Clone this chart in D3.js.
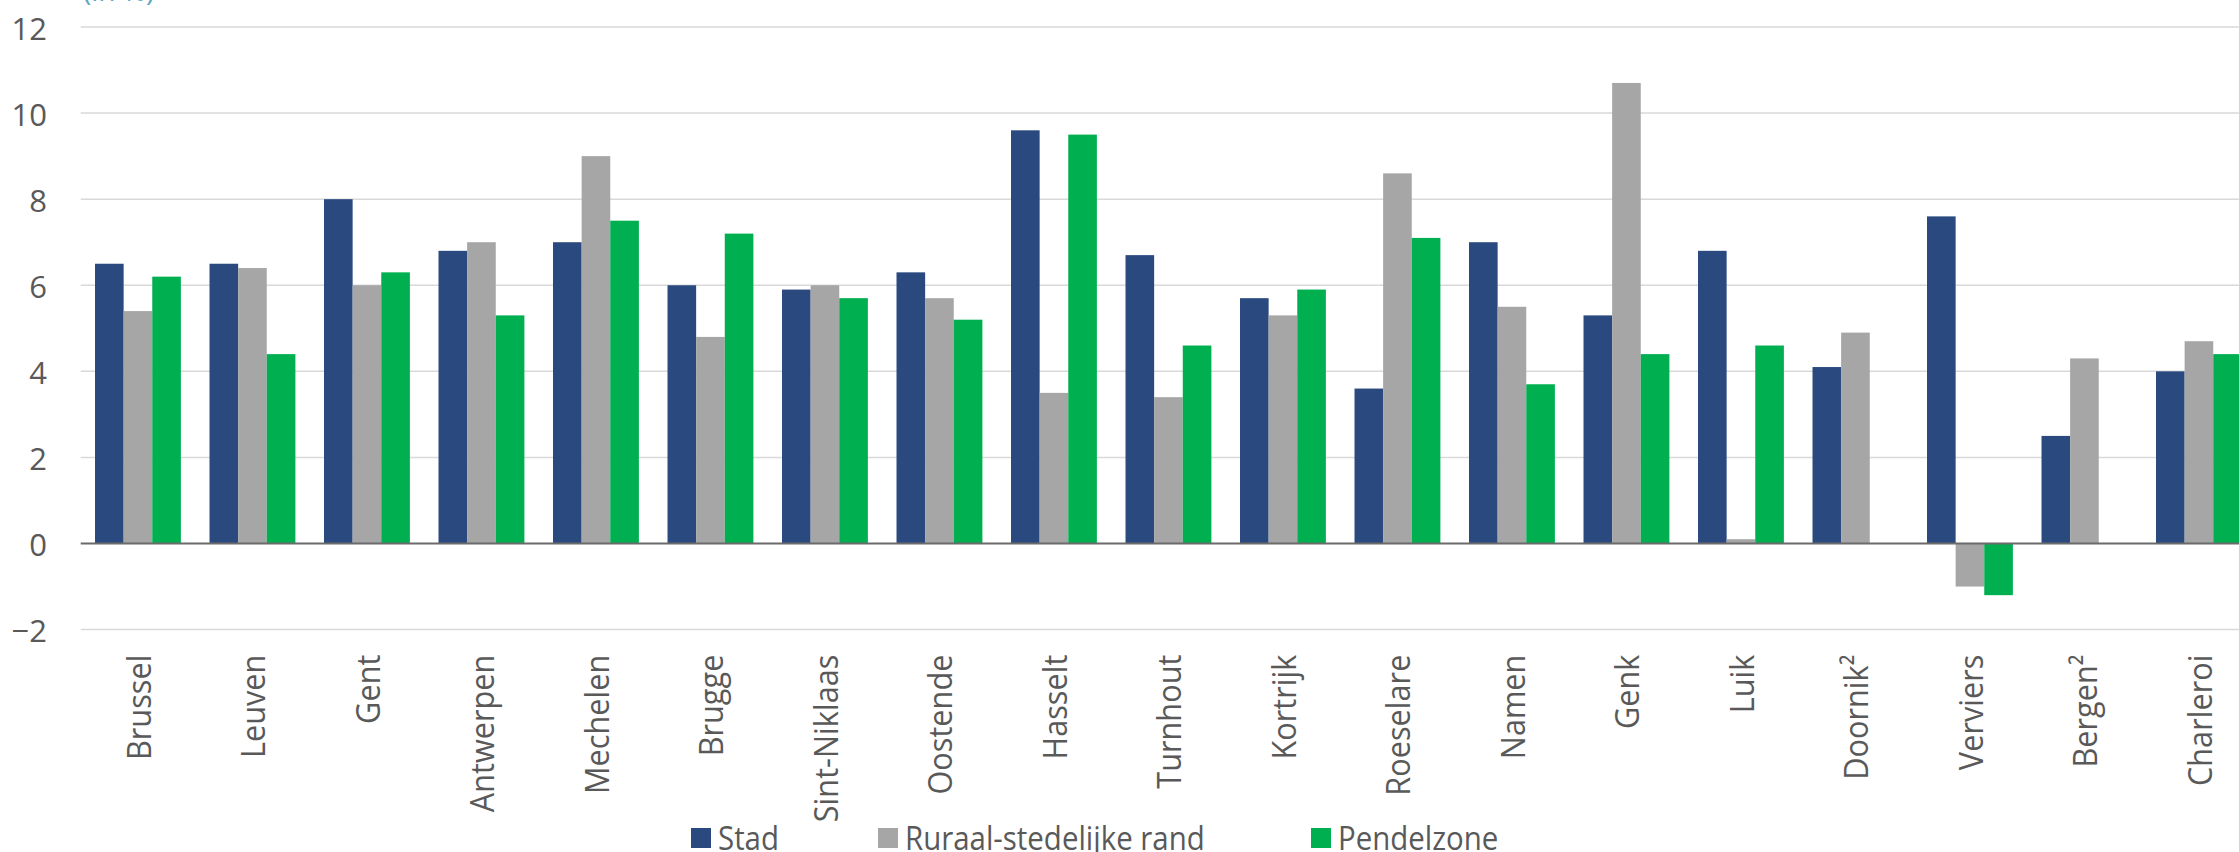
<!DOCTYPE html>
<html>
<head>
<meta charset="utf-8">
<script src="https://cdn.jsdelivr.net/npm/d3@7"></script>
<style>
  html, body { margin: 0; padding: 0; background: #ffffff; overflow: hidden; }
  svg { display: block; }
  text { font-family: "Open Sans", "Noto Sans", sans-serif; }
</style>
</head>
<body>
<script>
const categories = ["Brussel","Leuven","Gent","Antwerpen","Mechelen","Brugge","Sint-Niklaas","Oostende","Hasselt","Turnhout","Kortrijk","Roeselare","Namen","Genk","Luik","Doornik²","Verviers","Bergen²","Charleroi"];
const stad      = [6.5, 6.5, 8.0, 6.8, 7.0, 6.0, 5.9, 6.3, 9.6, 6.7, 5.7, 3.6, 7.0, 5.3, 6.8, 4.1, 7.6, 2.5, 4.0];
const ruraal    = [5.4, 6.4, 6.0, 7.0, 9.0, 4.8, 6.0, 5.7, 3.5, 3.4, 5.3, 8.6, 5.5, 10.7, 0.1, 4.9, -1.0, 4.3, 4.7];
const pendel    = [6.2, 4.4, 6.3, 5.3, 7.5, 7.2, 5.7, 5.2, 9.5, 4.6, 5.9, 7.1, 3.7, 4.4, 4.6, null, -1.2, null, 4.4];
const seriesNames = ["Stad", "Ruraal-stedelijke rand", "Pendelzone"];
const seriesColors = ["#2a4a7f", "#a6a6a6", "#00b050"];
const yTicks = [-2, 0, 2, 4, 6, 8, 10, 12];
const unitLabel = "(in %)";

const W = 2239, H = 852;
const left = 80.7, step = 114.5;
const svg = d3.select("body").append("svg").attr("width", W).attr("height", H);

const x = d3.scaleBand().domain(categories)
  .range([left, left + step * categories.length])
  .paddingInner(0.25).paddingOuter(0.125);
const xs = d3.scaleBand().domain(seriesNames).range([0, x.bandwidth()]);
const y = d3.scaleLinear().domain([-2, 12]).range([629.6, 27]);

// gridlines
svg.append("g").selectAll("line").data(yTicks.filter(d => d !== 0)).join("line")
  .attr("x1", left).attr("x2", W)
  .attr("y1", d => y(d)).attr("y2", d => y(d))
  .attr("stroke", "#d9d9d9").attr("stroke-width", 1.5);

// y axis labels
const yAxis = d3.axisLeft(y).tickValues(yTicks).tickSize(0).tickPadding(0);
const ya = svg.append("g").attr("transform", "translate(47,0)").call(yAxis);
ya.select(".domain").remove();
ya.selectAll("text")
  .attr("x", 0).attr("dy", null)
  .attr("dominant-baseline", "central")
  .attr("font-size", 31).attr("fill", "#595959")
  .attr("font-family", "Open Sans");

// bars
const seriesData = [stad, ruraal, pendel];
seriesNames.forEach((name, si) => {
  const vals = seriesData[si];
  svg.append("g").selectAll("rect")
    .data(categories.map((c, i) => ({ c, v: vals[i] })).filter(d => d.v !== null))
    .join("rect")
    .attr("x", d => x(d.c) + xs(name))
    .attr("width", xs.bandwidth())
    .attr("y", d => Math.min(y(d.v), y(0)))
    .attr("height", d => Math.abs(y(d.v) - y(0)))
    .attr("fill", seriesColors[si]);
});

// zero line
svg.append("line")
  .attr("x1", left).attr("x2", W)
  .attr("y1", y(0)).attr("y2", y(0))
  .attr("stroke", "#6b6b6b").attr("stroke-width", 2);

// x labels (rotated)
const xa = svg.append("g").attr("transform", `translate(0,${y(-2)})`)
  .call(d3.axisBottom(x).tickSize(0).tickPadding(0));
xa.select(".domain").remove();
xa.selectAll("text")
  .attr("y", 0).attr("dy", null)
  .attr("text-anchor", "end")
  .attr("dominant-baseline", "central")
  .attr("font-size", 33).attr("fill", "#595959")
  .attr("font-family", "Open Sans")
  .attr("transform", "translate(0,25) rotate(-90) scale(0.93,1)");

// unit label
svg.append("text").attr("x", 83).attr("y", 0.5)
  .attr("font-size", 28).attr("fill", "#5ba8c0")
  .text(unitLabel);

// legend
const legendX = [691, 878, 1311];
const lg = svg.append("g");
seriesNames.forEach((name, i) => {
  const g = lg.append("g").attr("transform", `translate(${legendX[i]},828)`);
  g.append("rect").attr("width", 20).attr("height", 20).attr("fill", seriesColors[i]);
  g.append("text").attr("x", 27).attr("y", 10)
    .attr("dominant-baseline", "central")
    .attr("font-size", 32).attr("fill", "#595959")
    .attr("transform", "translate(27,0) scale(0.92,1) translate(-27,0)")
    .text(name);
});
</script>
</body>
</html>
